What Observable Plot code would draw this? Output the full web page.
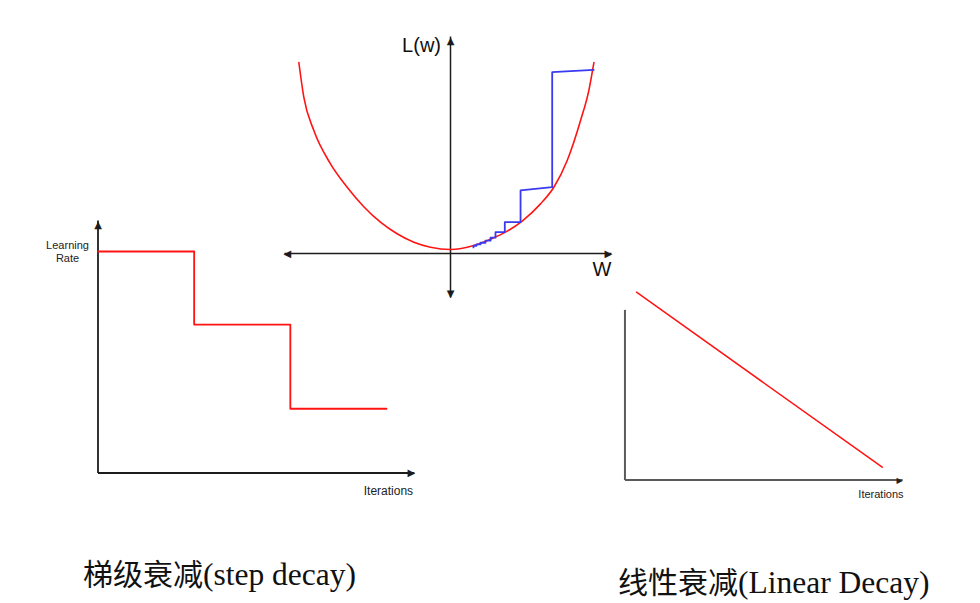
<!DOCTYPE html>
<html><head><meta charset="utf-8">
<script src="https://cdn.jsdelivr.net/npm/d3@7"></script>
<script src="https://cdn.jsdelivr.net/npm/@observablehq/plot@0.6"></script>
<style>
body{margin:0;background:#fff;}
#wrap{position:relative;width:980px;height:603px;overflow:hidden;background:#fff;}
#wrap svg{position:absolute;left:0;top:0;}
.cap{position:absolute;font-family:"Liberation Serif","Noto Sans CJK SC",serif;font-size:30px;line-height:30px;color:#111;white-space:nowrap;}
.cap .lat{font-size:31.5px;}
</style></head><body>
<div id="wrap"></div>
<script>
// ---- Loss curve L(w) (w normalised, L normalised) ----
const lossW = [-1.011,-0.978,-0.911,-0.8,-0.689,-0.578,-0.467,-0.356,-0.244,-0.133,0,0.155,0.267,0.378,0.478,0.6,0.689,0.778,0.867,0.922,0.956];
const lossL = [1.0,0.815,0.636,0.458,0.333,0.229,0.146,0.084,0.039,0.012,0,0.021,0.055,0.098,0.152,0.244,0.333,0.476,0.69,0.85,1.0];
// gradient-descent staircase
const pathW = [0.955,0.678,0.678,0.467,0.467,0.362,0.362,0.3,0.3,0.267,0.267,0.233,0.233,0.2,0.2,0.173,0.173,0.153,0.153];
const pathL = [0.961,0.948,0.333,0.316,0.146,0.146,0.093,0.093,0.063,0.063,0.047,0.047,0.036,0.036,0.027,0.027,0.020,0.020,0.011];
// axis extents of the loss diagram
const lossAxisW = [-1.107, 1.073];
const lossAxisL = [-0.257, 1.139];
const lossAxisAt = -0.021;

// ---- Step decay ----
const stepIters = [0, 1, 2, 3];
const stepRates = [1, 0.67, 0.29, 0.29];
const stepAxisIter = 3.29, stepAxisRate = 1.14;

// ---- Linear decay ----
const linIters = [0, 1];
const linRates = [1, 0];
const linAxisIter = [-0.047, 1.083];
const linAxisRate = [-0.073, 0.899];

const captionsCJK = ["梯级衰减", "线性衰减"];
const captionsLatin = ["(step decay)", "(Linear Decay)"];

const AX = "#1c1c1c";
const RED = "#ff1414";
const BLUE = "#3a3af0";
const SANS = "Liberation Sans, Arial, sans-serif";
const GLYPH = "DejaVu Sans";

function head(data, glyph, opts) {
  return Plot.text(data, {x: "x", y: "y", text: () => glyph, fontFamily: GLYPH, textAnchor: "middle", lineAnchor: "middle", ...opts});
}
const base = {width: 980, height: 603, margin: 0, style: {background: "transparent", overflow: "visible"}};

// ---- Loss diagram ----
const lossData = lossW.map((w, i) => ({w, L: lossL[i]}));
const pathData = pathW.map((w, i) => ({w, L: pathL[i]}));
const lossAxes = [
  {x1: lossAxisW[0], y1: lossAxisAt, x2: lossAxisW[1], y2: lossAxisAt},
  {x1: 0, y1: lossAxisL[0], x2: 0, y2: lossAxisL[1]}
];
const lossPlot = Plot.plot({
  ...base,
  x: {domain: [-1, 1], range: [300, 600], axis: null},
  y: {domain: [0, 1], range: [249, 62], axis: null},
  marks: [
    Plot.link(lossAxes, {x1: "x1", y1: "y1", x2: "x2", y2: "y2", stroke: AX, strokeWidth: 1.5}),
    head([{x: lossAxisW[1], y: lossAxisAt}], "▶", {dx: -3, fontSize: 10, fill: AX}),
    head([{x: lossAxisW[0], y: lossAxisAt}], "◀", {dx: 3, fontSize: 10, fill: AX}),
    head([{x: 0, y: lossAxisL[1]}], "▲", {dy: 4, fontSize: 10, fill: AX}),
    head([{x: 0, y: lossAxisL[0]}], "▼", {dy: -4, fontSize: 10, fill: AX}),
    Plot.line(lossData, {x: "w", y: "L", stroke: RED, strokeWidth: 1.6, curve: "monotone-x"}),
    Plot.line(pathData, {x: "w", y: "L", stroke: BLUE, strokeWidth: 1.8, strokeLinejoin: "round"}),
    Plot.text([{x: -0.193, y: 1.088, t: "L(w)"}], {x: "x", y: "y", text: "t", fontSize: 20, fontFamily: SANS, fill: "#111", lineAnchor: "middle"}),
    Plot.text([{x: 1.01, y: -0.110, t: "W"}], {x: "x", y: "y", text: "t", fontSize: 20, fontFamily: SANS, fill: "#111", lineAnchor: "middle"})
  ]
});

// ---- Step decay ----
const stepData = stepIters.map((i, k) => ({iter: i, lr: stepRates[k]}));
const stepAxes = [
  {x1: 0, y1: 0, x2: stepAxisIter, y2: 0},
  {x1: 0, y1: 0, x2: 0, y2: stepAxisRate}
];
const stepPlot = Plot.plot({
  ...base,
  x: {domain: [0, 3], range: [97.5, 386], axis: null},
  y: {domain: [0, 1], range: [472.5, 251], axis: null},
  marks: [
    Plot.link(stepAxes, {x1: "x1", y1: "y1", x2: "x2", y2: "y2", stroke: AX, strokeWidth: 1.8}),
    head([{x: stepAxisIter, y: 0}], "▶", {dx: -3, fontSize: 10, fill: AX}),
    head([{x: 0, y: stepAxisRate}], "▲", {dy: 4, fontSize: 10, fill: AX}),
    Plot.line(stepData, {x: "iter", y: "lr", curve: "step-after", stroke: RED, strokeWidth: 1.8}),
    Plot.text([{x: -0.317, y: 1.0, t: "Learning\nRate"}], {x: "x", y: "y", text: "t", fontSize: 11, lineHeight: 1.2, fontFamily: SANS, fill: "#222", lineAnchor: "middle"}),
    Plot.text([{x: 3.02, y: -0.0835, t: "Iterations"}], {x: "x", y: "y", text: "t", fontSize: 12, fontFamily: SANS, fill: "#222", lineAnchor: "middle"})
  ]
});

// ---- Linear decay ----
const linData = linIters.map((i, k) => ({iter: i, lr: linRates[k]}));
const linAxes = [
  {x1: linAxisIter[0], y1: linAxisRate[0], x2: linAxisIter[1], y2: linAxisRate[0]},
  {x1: linAxisIter[0], y1: linAxisRate[0], x2: linAxisIter[0], y2: linAxisRate[1]}
];
const linPlot = Plot.plot({
  ...base,
  x: {domain: [0, 1], range: [636, 881.7], axis: null},
  y: {domain: [0, 1], range: [466.7, 291.7], axis: null},
  marks: [
    Plot.link(linAxes, {x1: "x1", y1: "y1", x2: "x2", y2: "y2", stroke: "#5a5a5a", strokeWidth: 2}),
    head([{x: linAxisIter[1], y: linAxisRate[0]}], "▶", {dx: -3, fontSize: 8, fill: "#222"}),
    Plot.line(linData, {x: "iter", y: "lr", stroke: RED, strokeWidth: 1.5}),
    Plot.text([{x: 0.995, y: -0.156, t: "Iterations"}], {x: "x", y: "y", text: "t", fontSize: 11, fontFamily: SANS, fill: "#222", lineAnchor: "middle"})
  ]
});

const wrap = document.getElementById("wrap");
wrap.append(stepPlot, linPlot, lossPlot);
const capPos = [[83, 560], [618, 568]];
captionsCJK.forEach((c, i) => {
  const d = document.createElement("div");
  d.className = "cap";
  d.append(document.createTextNode(c));
  const s = document.createElement("span");
  s.className = "lat";
  s.textContent = captionsLatin[i];
  d.append(s);
  d.style.left = capPos[i][0] + "px";
  d.style.top = capPos[i][1] + "px";
  wrap.append(d);
});
</script>
</body></html>
